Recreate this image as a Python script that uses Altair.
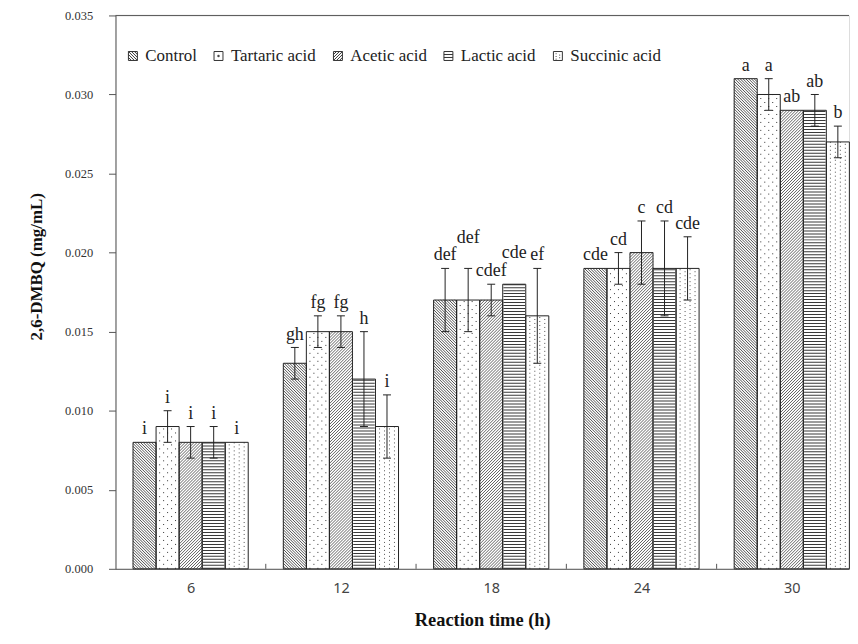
import altair as alt
import pandas as pd

# ---------------- data ----------------
times = [6, 12, 18, 24, 30]
series = ["Control", "Tartaric acid", "Acetic acid", "Lactic acid", "Succinic acid"]

control = [0.008, 0.013, 0.017, 0.019, 0.031]
tartaric = [0.009, 0.015, 0.017, 0.019, 0.030]
acetic = [0.008, 0.015, 0.017, 0.020, 0.029]
lactic = [0.008, 0.012, 0.018, 0.019, 0.029]
succinic = [0.008, 0.009, 0.016, 0.019, 0.027]

control_err = [0.000, 0.001, 0.002, 0.000, 0.000]
tartaric_err = [0.001, 0.001, 0.002, 0.001, 0.001]
acetic_err = [0.001, 0.001, 0.001, 0.002, 0.000]
lactic_err = [0.001, 0.003, 0.000, 0.003, 0.001]
succinic_err = [0.000, 0.002, 0.003, 0.002, 0.001]

control_lbl = ["i", "gh", "def", "cde", "a"]
tartaric_lbl = ["i", "fg", "def", "cd", "a"]
acetic_lbl = ["i", "fg", "cdef", "c", "ab"]
lactic_lbl = ["i", "h", "cde", "cd", "ab"]
succinic_lbl = ["i", "i", "ef", "cde", "b"]

y_ticks = [0.000, 0.005, 0.010, 0.015, 0.020, 0.025, 0.030, 0.035]

vals = [control, tartaric, acetic, lactic, succinic]
errs = [control_err, tartaric_err, acetic_err, lactic_err, succinic_err]
lbls = [control_lbl, tartaric_lbl, acetic_lbl, lactic_lbl, succinic_lbl]

rows = []
for si, s in enumerate(series):
    for gi, t in enumerate(times):
        rows.append(dict(series=s, s_idx=si, g_idx=gi, time=t,
                         value=vals[si][gi], err=errs[si][gi], letter=lbls[si][gi]))
df = pd.DataFrame(rows)
edges_df = pd.DataFrame({"edge": [i + 1.5 for i in range(len(times) - 1)]})
frame_df = pd.DataFrame({"k": [0]})

# ---------------- geometry ----------------
W, H = 737, 556
GROUP_PX = 151.0
X0 = 0.5
X1 = X0 + W / GROUP_PX
Y1 = 0.035
KX = GROUP_PX
KY = H / Y1
BAR_PX = 23.15
BW = BAR_PX / KX
CAP_PX = 8.0
LIFT_PX = 18.0

SERIF = "Liberation Serif"
SANS = "Noto Sans"

xscale = alt.Scale(domain=[X0, X1], nice=False, zero=False)
yscale = alt.Scale(domain=[0, Y1], nice=False)

xaxis = alt.Axis(
    values=[i + 1 for i in range(len(times))],
    labelExpr=f"{times}[datum.value - 1]",
    title="Reaction time (h)",
    ticks=False, grid=False,
    labelFont=SANS, labelFontSize=14.5, labelColor="#444", labelPadding=13,
    titleFont=SERIF, titleFontSize=18.5, titleFontWeight="bold", titleColor="#111",
    titlePadding=15,
    domainColor="#555",
)
yaxis = alt.Axis(
    values=y_ticks, format=".3f", title="2,6-DMBQ (mg/mL)", grid=False,
    tickSize=7, tickColor="#555", domainColor="#555",
    labelFont=SERIF, labelFontSize=12.5, labelColor="#333", labelPadding=16,
    titleFont=SERIF, titleFontSize=17, titleFontWeight="bold", titleColor="#111",
    titleX=-70, titleY=252,
)


def xenc(field):
    return alt.X(f"{field}:Q", scale=xscale, axis=xaxis)


def yenc(field):
    return alt.Y(f"{field}:Q", scale=yscale, axis=yaxis)


base = (
    alt.Chart(df)
    .transform_calculate(cx=f"datum.g_idx + 1 + (datum.s_idx - 2) * {BW}")
    .transform_calculate(left=f"datum.cx - {BW / 2}")
    .transform_calculate(right=f"datum.cx + {BW / 2}")
    .transform_calculate(zero="0")
    .transform_calculate(lo="datum.value - datum.err")
    .transform_calculate(hi="datum.value + datum.err")
)

# legend carrier: small points hidden under the white bar fills
legend_layer = base.transform_calculate(mid="datum.value / 2").mark_point(
    filled=False, color="#333333", strokeWidth=1
).encode(
    x=xenc("cx"),
    y=yenc("mid"),
    shape=alt.Shape(
        "series:N",
        scale=alt.Scale(domain=series, range=[
            "M-1,-1H1V1H-1Z M-1,-1L1,1 M-1,-0.33L0.33,1 M-1,0.33L-0.33,1 M-0.33,-1L1,0.33 M0.33,-1L1,-0.33",
            "M-1,-1H1V1H-1Z M-0.15,-0.15H0.15V0.15H-0.15Z",
            "M-1,-1H1V1H-1Z M1,-1L-1,1 M1,-0.33L-0.33,1 M1,0.33L0.33,1 M0.33,-1L-1,0.33 M-0.33,-1L-1,-0.33",
            "M-1,-1H1V1H-1Z M-1,-0.33H1 M-1,0.33H1",
            "M-1,-1H1V1H-1Z M-0.4,-0.6V-0.4 M-0.4,0V0.2 M-0.4,0.6V0.8 M0.4,-0.3V-0.1 M0.4,0.3V0.5",
        ]),
        legend=alt.Legend(
            orient="none", legendX=9, legendY=32, direction="horizontal",
            title=None, padding=0,
            labelFont=SERIF, labelFontSize=17, labelColor="#222222",
            symbolSize=81, symbolStrokeWidth=1, symbolStrokeColor="#333333",
            symbolFillColor="white", symbolOpacity=1, symbolType="square",
            columnPadding=13, labelOffset=4,
        ),
    ),
)

bars_fill = base.mark_bar(color="white", strokeWidth=0).encode(
    x=xenc("left"), x2="right:Q", y=yenc("value"), y2="zero:Q"
)


def hatch(si, period, mirror, color, width):
    d = (
        base.transform_filter(f"datum.s_idx == {si}")
        .transform_calculate(hp=f"datum.value * {KY}")
        .transform_calculate(j=f"sequence(1, ceil((datum.hp + {BAR_PX}) / {period}))")
        .transform_flatten(["j"])
        .transform_calculate(c=f"datum.j * {period}")
        .transform_calculate(xa="max(0, datum.c - datum.hp)")
        .transform_calculate(xb=f"min({BAR_PX}, datum.c)")
        .transform_filter("datum.xb > datum.xa")
        .transform_calculate(ya=f"(datum.c - datum.xa) / {KY}")
        .transform_calculate(yb=f"(datum.c - datum.xb) / {KY}")
    )
    if mirror:
        d = d.transform_calculate(xA=f"datum.right - datum.xa / {KX}").transform_calculate(
            xB=f"datum.right - datum.xb / {KX}")
    else:
        d = d.transform_calculate(xA=f"datum.left + datum.xa / {KX}").transform_calculate(
            xB=f"datum.left + datum.xb / {KX}")
    return d.mark_rule(color=color, strokeWidth=width).encode(
        x=xenc("xA"), x2="xB:Q", y=yenc("ya"), y2="yb:Q"
    )


def dots(si, cols, shifts, gap, color):
    d = (
        base.transform_filter(f"datum.s_idx == {si}")
        .transform_calculate(col=f"{cols}")
        .transform_calculate(sh=f"{shifts}")
        .transform_flatten(["col", "sh"])
        .transform_calculate(xd=f"datum.cx + datum.col / {KX}")
        .transform_calculate(y0=f"datum.sh / {KY}")
    )
    return d.mark_rule(color=color, strokeWidth=1, strokeDash=[1, gap]).encode(
        x=xenc("xd"), y=yenc("y0"), y2="value:Q"
    )


hatch_control = hatch(0, 2.8, False, "#222222", 0.8)
hatch_acetic = hatch(2, 3.0, True, "#3a3a3a", 0.8)
dots_tartaric = dots(1, [-8, -4, 0, 4, 8], [0, 4, 0, 4, 0], 7, "#333333")
dots_succinic = dots(4, [-7.5, -2.5, 2.5, 7.5], [0, 2, 0, 2], 3, "#555555")
stripes_lactic = (
    base.transform_filter("datum.s_idx == 3")
    .mark_rule(color="#3a3a3a", strokeWidth=BAR_PX - 1.5, strokeDash=[1, 2])
    .encode(x=xenc("cx"), y=yenc("zero"), y2="value:Q")
)

bars_outline = base.mark_bar(fillOpacity=0, stroke="#222222", strokeWidth=1).encode(
    x=xenc("left"), x2="right:Q", y=yenc("value"), y2="zero:Q"
)

err_rule = (
    base.transform_filter("datum.err > 0")
    .mark_rule(color="#222222", strokeWidth=1)
    .encode(x=xenc("cx"), y=yenc("lo"), y2="hi:Q")
)
err_caps = (
    base.transform_filter("datum.err > 0")
    .transform_fold(["lo", "hi"], as_=["end", "ey"])
    .transform_calculate(cl=f"datum.cx - {CAP_PX / 2 / KX}")
    .transform_calculate(cr=f"datum.cx + {CAP_PX / 2 / KX}")
    .mark_rule(color="#222222", strokeWidth=1)
    .encode(x=xenc("cl"), x2="cr:Q", y=yenc("ey"))
)

# letters: lift a label when it would collide with its left neighbour
labels = (
    base.transform_window(
        prev_hi="lag(hi)", prev_letter="lag(letter)",
        groupby=["g_idx"], sort=[alt.SortField("s_idx")],
    )
    .transform_calculate(
        crowd="datum.prev_letter != null && abs(datum.hi - datum.prev_hi) < 0.0008 "
              "&& (length(datum.prev_letter) + length(datum.letter)) >= 6"
    )
    .transform_calculate(ly=f"datum.hi + (datum.crowd ? {LIFT_PX / KY} : 0)")
    .mark_text(dy=-8, font=SERIF, fontSize=18, color="#222222",
               baseline="alphabetic", align="center")
    .encode(x=xenc("cx"), y=yenc("ly"), text="letter:N")
)

top_frame = alt.Chart(frame_df).mark_rule(color="#555555", strokeWidth=1).encode(
    x=alt.value(0), x2=alt.value(W), y=alt.value(0)
)
edge_ticks = alt.Chart(edges_df).mark_rule(color="#555555", strokeWidth=1).encode(
    x=xenc("edge"), y=alt.value(H), y2=alt.value(H - 5)
)

chart = (
    alt.layer(
        legend_layer, bars_fill, hatch_control, hatch_acetic, dots_tartaric,
        dots_succinic, stripes_lactic, bars_outline, err_rule, err_caps, labels,
        top_frame, edge_ticks,
    )
    .properties(width=W, height=H,
                padding={"left": 20, "top": 0, "right": 0, "bottom": 0})
    .configure_view(stroke=None)
    .configure(background="white")
)

chart.save("out.html", embed_options={"renderer": "svg", "actions": False})
